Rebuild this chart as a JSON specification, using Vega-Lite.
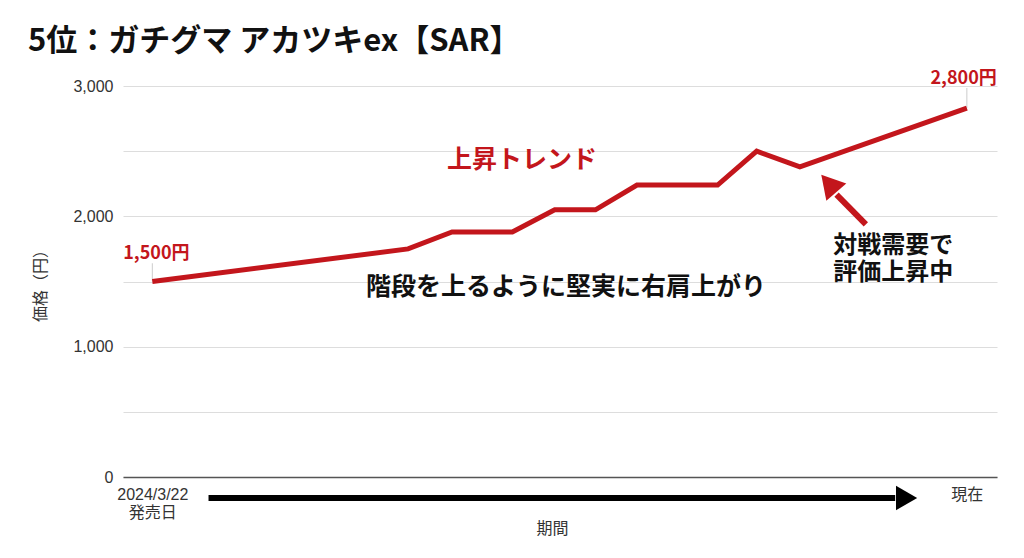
{
  "$schema": "https://vega.github.io/schema/vega-lite/v6.json",
  "width": 874,
  "height": 391,
  "autosize": "none",
  "padding": {"left": 123, "top": 86, "right": 27, "bottom": 81},
  "background": "#ffffff",
  "title": {
    "text": "5位：ガチグマ アカツキex【SAR】",
    "anchor": "start",
    "frame": "group",
    "dx": -95,
    "offset": 12,
    "font": "Noto Sans CJK JP",
    "fontSize": 31,
    "fontWeight": "bold",
    "color": "#111111"
  },
  "config": {
    "view": {"stroke": null},
    "axis": {
      "labelFont": "Liberation Sans, 'Noto Sans CJK JP', sans-serif",
      "titleFont": "Liberation Sans, 'Noto Sans CJK JP', sans-serif",
      "labelColor": "#333333",
      "titleColor": "#333333",
      "labelFontSize": 16,
      "titleFontSize": 16,
      "titleFontWeight": "normal",
      "ticks": false
    }
  },
  "datasets": {
    "price": [
      {"t": 0, "price": 1500},
      {"t": 31.4, "price": 1750},
      {"t": 36.8, "price": 1880},
      {"t": 44.2, "price": 1880},
      {"t": 49.4, "price": 2050},
      {"t": 54.4, "price": 2050},
      {"t": 59.5, "price": 2240},
      {"t": 69.4, "price": 2240},
      {"t": 74.2, "price": 2500},
      {"t": 79.5, "price": 2380},
      {"t": 100, "price": 2830}
    ],
    "leaders": [
      {"t": 0, "p1": 1500, "p2": 1640},
      {"t": 100, "p1": 2830, "p2": 2985}
    ],
    "redLabels": [
      {"t": 0.5, "price": 1709, "label": "1,500円", "size": "s"},
      {"t": 99.6, "price": 3050, "label": "2,800円", "size": "s"},
      {"t": 45.4, "price": 2429, "label": "上昇トレンド", "size": "l"}
    ],
    "blackCenter": [
      {"t": 50.8, "price": 1456, "label": "階段を上るように堅実に右肩上がり"}
    ],
    "blackLeft": [
      {"t": 83.6, "price": 1770, "label": "対戦需要で\n評価上昇中"}
    ],
    "timeArrow": [{"t1": 6.9, "t2": 91.2, "price": -161, "head": 92.6}],
    "redArrow": [{"t1": 87.6, "p1": 1939, "t2": 84.0, "p2": 2167, "head": 83.05, "headP": 2252}]
  },
  "layer": [
    {
      "data": {"name": "leaders"},
      "mark": {"type": "rule", "color": "#cccccc", "strokeWidth": 1, "clip": false},
      "encoding": {
        "x": {"field": "t", "type": "quantitative"},
        "y": {"field": "p1", "type": "quantitative"},
        "y2": {"field": "p2"}
      }
    },
    {
      "data": {"name": "price"},
      "mark": {"type": "line", "color": "#c3161c", "strokeWidth": 5, "strokeJoin": "miter", "clip": false},
      "encoding": {
        "x": {
          "field": "t",
          "type": "quantitative",
          "scale": {"domain": [-3.6, 103.7], "nice": false, "zero": false},
          "axis": {
            "title": "期間",
            "titleX": 429,
            "values": [0, 100],
            "labelExpr": "datum.value == 0 ? ['2024/3/22', '発売日'] : '現在'",
            "labelFlush": false,
            "labelPadding": 9,
            "labelLineHeight": 18,
            "labelBaseline": "top",
            "grid": false,
            "domain": true,
            "domainColor": "#555555",
            "domainWidth": 1.5,
            "titlePadding": 0
          }
        },
        "y": {
          "field": "price",
          "type": "quantitative",
          "scale": {"domain": [0, 3000], "nice": false},
          "axis": {
            "title": "価格（円）",
            "values": [0, 500, 1000, 1500, 2000, 2500, 3000],
            "labelExpr": "datum.value % 1000 == 0 ? datum.label : ''",
            "grid": true,
            "gridColor": "#dddddd",
            "gridWidth": 1,
            "domain": false,
            "labelPadding": 10,
            "titlePadding": 24
          }
        }
      }
    },
    {
      "data": {"name": "timeArrow"},
      "mark": {"type": "rule", "color": "#000000", "strokeWidth": 6, "clip": false},
      "encoding": {
        "x": {"field": "t1", "type": "quantitative"},
        "x2": {"field": "t2"},
        "y": {"field": "price", "type": "quantitative"}
      }
    },
    {
      "data": {"name": "timeArrow"},
      "mark": {"type": "point", "shape": "triangle-right", "filled": true, "color": "#000000", "opacity": 1, "size": 600, "clip": false},
      "encoding": {
        "x": {"field": "head", "type": "quantitative"},
        "y": {"field": "price", "type": "quantitative"}
      }
    },
    {
      "data": {"name": "redArrow"},
      "mark": {"type": "rule", "color": "#c3161c", "strokeWidth": 6, "clip": false},
      "encoding": {
        "x": {"field": "t1", "type": "quantitative"},
        "x2": {"field": "t2"},
        "y": {"field": "p1", "type": "quantitative"},
        "y2": {"field": "p2"}
      }
    },
    {
      "data": {"name": "redArrow"},
      "mark": {"type": "point", "shape": "triangle-up", "filled": true, "color": "#c3161c", "opacity": 1, "size": 700, "angle": 319, "clip": false},
      "encoding": {
        "x": {"field": "head", "type": "quantitative"},
        "y": {"field": "headP", "type": "quantitative"}
      }
    },
    {
      "data": {"name": "redLabels"},
      "mark": {"type": "text", "color": "#c3161c", "font": "Noto Sans CJK JP", "fontWeight": "bold", "align": "center", "baseline": "middle", "clip": false},
      "encoding": {
        "x": {"field": "t", "type": "quantitative"},
        "y": {"field": "price", "type": "quantitative"},
        "text": {"field": "label"},
        "size": {"field": "size", "type": "nominal", "scale": {"domain": ["s", "l"], "range": [18, 25]}, "legend": null}
      }
    },
    {
      "data": {"name": "blackCenter"},
      "mark": {"type": "text", "color": "#111111", "font": "Noto Sans CJK JP", "fontWeight": "bold", "fontSize": 25, "align": "center", "baseline": "middle", "clip": false},
      "encoding": {
        "x": {"field": "t", "type": "quantitative"},
        "y": {"field": "price", "type": "quantitative"},
        "text": {"field": "label"}
      }
    },
    {
      "data": {"name": "blackLeft"},
      "mark": {"type": "text", "color": "#111111", "font": "Noto Sans CJK JP", "fontWeight": "bold", "fontSize": 24, "lineBreak": "\n", "lineHeight": 27, "align": "left", "baseline": "middle", "clip": false},
      "encoding": {
        "x": {"field": "t", "type": "quantitative"},
        "y": {"field": "price", "type": "quantitative"},
        "text": {"field": "label"}
      }
    }
  ]
}
